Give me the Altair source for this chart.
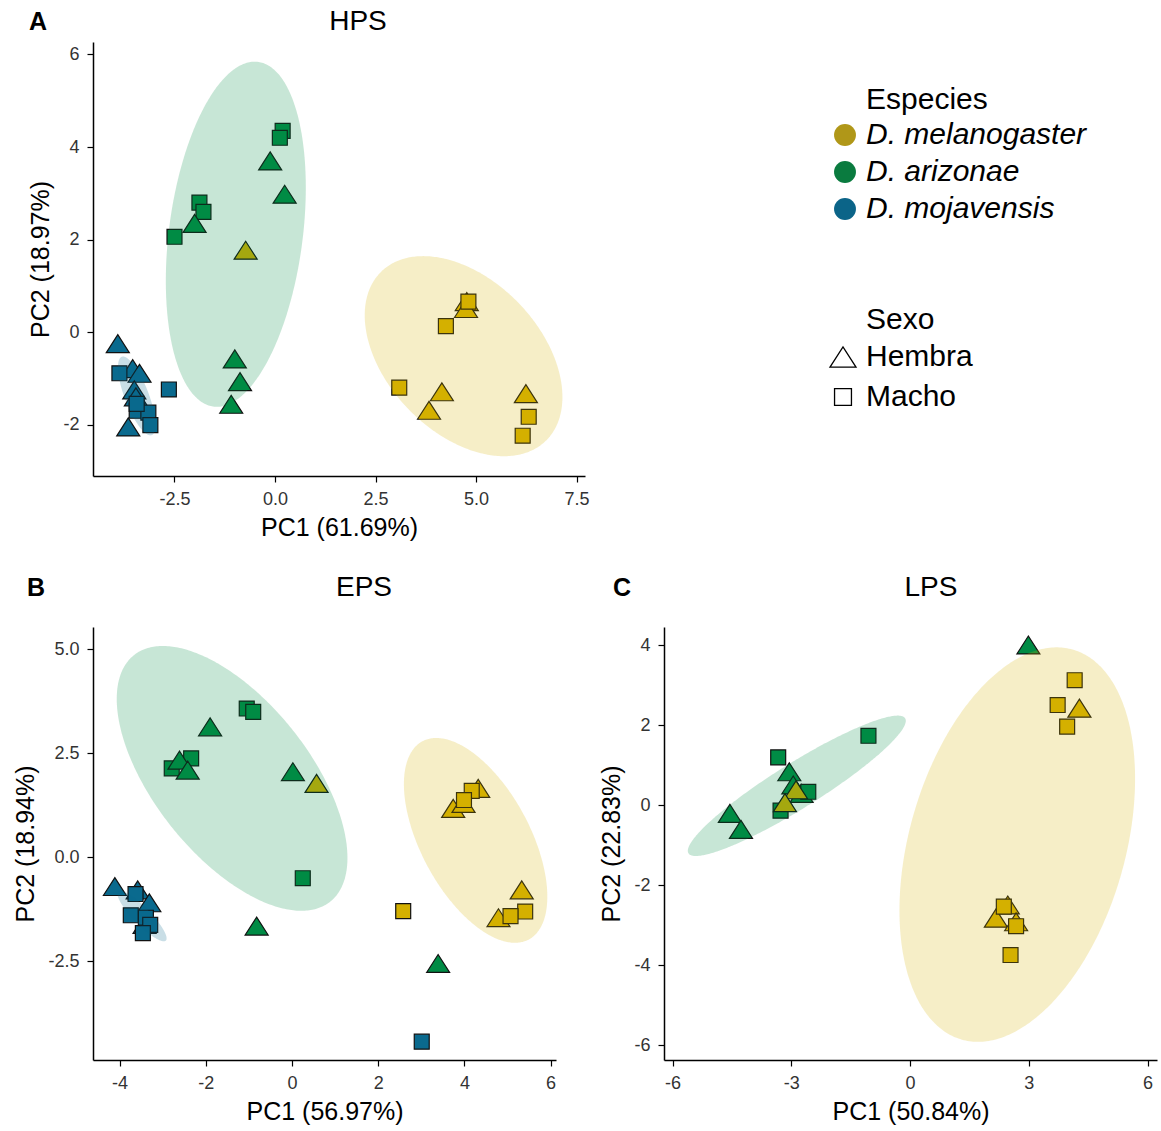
import numpy as np
import pandas as pd
import altair as alt

FONT = "Liberation Sans"

ESPECIES = ["D. melanogaster", "D. arizonae", "D. mojavensis"]
SEXOS = ["Hembra", "Macho"]
MEL, ARI, MOJ = ESPECIES
HEM, MAC = SEXOS

COLOR_PUNTOS = ["#D4B000", "#008B45", "#0A6A8E"]
COLOR_LEYENDA = ["#B09718", "#0A7B3F", "#0B6488"]
# triangle (Hembra) and square (Macho) as custom symbol paths
FORMAS = ["M-1,0.78L0,-0.78L1,0.78Z",
          "M-0.65,-0.65L0.65,-0.65L0.65,0.65L-0.65,0.65Z"]

# ---- HPS scores: (especie, sexo) -> (PC1, PC2)
HPS_PC1 = {
    (ARI, MAC): [0.19, 0.12, -1.88, -1.78, -2.50],
    (ARI, HEM): [-0.12, 0.24, -2.00, -1.00, -0.87, -1.09],
    (MEL, HEM): [-0.73, 4.77, 4.75, 4.15, 3.83, 6.24],
    (MEL, MAC): [4.81, 4.25, 3.09, 6.31, 6.16],
    (MOJ, HEM): [-3.91, -3.54, -3.37, -3.50, -3.46, -3.65],
    (MOJ, MAC): [-3.87, -2.64, -3.44, -3.15, -3.10, -3.44],
}
HPS_PC2 = {
    (ARI, MAC): [4.35, 4.20, 2.80, 2.60, 2.06],
    (ARI, HEM): [3.70, 2.98, 2.35, -0.58, -1.07, -1.56],
    (MEL, HEM): [1.77, 0.66, 0.51, -1.29, -1.69, -1.33],
    (MEL, MAC): [0.66, 0.13, -1.20, -1.83, -2.24],
    (MOJ, HEM): [-0.25, -0.79, -0.89, -1.25, -1.40, -2.05],
    (MOJ, MAC): [-0.89, -1.24, -1.70, -1.74, -2.01, -1.55],
}

# ---- EPS scores
EPS_PC1 = {
    (ARI, MAC): [-1.05, -0.90, -2.34, -2.79, 0.25],
    (ARI, HEM): [-1.90, -2.61, -2.42, 0.02, -0.82, 3.39],
    (MEL, HEM): [0.57, 4.32, 3.74, 3.98, 5.33, 4.79],
    (MEL, MAC): [2.58, 4.17, 3.99, 5.41, 5.07],
    (MOJ, HEM): [-4.11, -3.58, -3.31, -3.42],
    (MOJ, MAC): [-3.63, -3.74, -3.39, -3.29, -3.46, 3.01],
}
EPS_PC2 = {
    (ARI, MAC): [3.57, 3.49, 2.37, 2.13, -0.51],
    (ARI, HEM): [3.13, 2.33, 2.09, 2.05, -1.66, -2.56],
    (MEL, HEM): [1.77, 1.65, 1.17, 1.29, -0.79, -1.46],
    (MEL, MAC): [-1.30, 1.59, 1.37, -1.31, -1.42],
    (MOJ, HEM): [-0.71, -0.79, -1.10, -1.62],
    (MOJ, MAC): [-0.89, -1.40, -1.46, -1.63, -1.83, -4.44],
}

# ---- LPS scores
LPS_PC1 = {
    (ARI, HEM): [2.99, -3.05, -2.74, -4.55, -4.27, -2.95],
    (ARI, MAC): [-1.05, -3.33, -2.57, -3.27],
    (MEL, HEM): [-2.88, -3.16, 4.28, 2.47, 2.17, 2.68],
    (MEL, MAC): [4.16, 3.73, 3.97, 2.37, 2.68, 2.54],
}
LPS_PC2 = {
    (ARI, HEM): [4.00, 0.83, 0.29, -0.21, -0.61, 0.50],
    (ARI, MAC): [1.73, 1.19, 0.33, -0.14],
    (MEL, HEM): [0.38, 0.06, 2.42, -2.50, -2.83, -2.92],
    (MEL, MAC): [3.12, 2.50, 1.96, -2.54, -3.03, -3.75],
}

# ---- group ellipses: centre (cx, cy) and two conjugate semi-axis vectors a, b
HPS_ELIPSES = {
    ARI: [-0.975, 2.115, 0.555, 3.725, 1.650, -0.190],
    MEL: [4.690, -0.520, 2.045, -1.830, -1.365, -1.152],
    MOJ: [-3.440, -1.380, 0.373, -0.847, 0.279, 0.093],
}
EPS_ELIPSES = {
    ARI: [-1.390, 1.890, 2.276, -2.964, -1.408, -1.161],
    MEL: [4.260, 0.400, 1.234, -2.383, -1.116, -0.620],
    MOJ: [-3.480, -1.420, 0.553, -0.589, -0.140, -0.142],
}
LPS_ELIPSES = {
    ARI: [-2.860, 0.480, 2.737, 1.688, 0.303, -0.480],
    MEL: [2.710, -0.990, 1.403, 4.875, 2.625, -0.740],
}


def tabla_puntos(pc1, pc2):
    filas = []
    for (esp, sexo), xs in pc1.items():
        for x, y in zip(xs, pc2[(esp, sexo)]):
            filas.append({"especie": esp, "sexo": sexo, "pc1": x, "pc2": y})
    return pd.DataFrame(filas)


def tabla_elipses(elipses, n=181):
    filas = []
    for esp, (cx, cy, ax, ay, bx, by) in elipses.items():
        r = np.hypot(ax, bx)
        phi = np.arctan2(bx, ax)
        u = np.linspace(0, np.pi, n)
        xs = cx + r * np.cos(u)
        ya = cy + ay * np.cos(phi + u) + by * np.sin(phi + u)
        yb = cy + ay * np.cos(phi - u) + by * np.sin(phi - u)
        for x, y1, y2 in zip(xs, np.minimum(ya, yb), np.maximum(ya, yb)):
            filas.append({"especie": esp, "pc1": x, "pc2": y1, "pc2b": y2})
    return pd.DataFrame(filas)


def etiqueta(fmt):
    return (f"datum.value < 0 ? '-' + format(-datum.value, '{fmt}') "
            f": format(datum.value, '{fmt}')")


def texto(t, dx, dy, size, weight="normal", align="center", style="normal"):
    return alt.Chart(pd.DataFrame({"t": [t]})).mark_text(
        font=FONT, fontSize=size, fontWeight=weight, align=align,
        baseline="middle", fontStyle=style, color="black",
    ).encode(text="t:N", x=alt.value(dx), y=alt.value(dy))


def panel(pc1, pc2, elipses, xdom, ydom, xticks, yticks, xfmt, yfmt,
          xtitle, ytitle, letra, titulo, w, h, letra_dx, titulo_dx, dy,
          ytitle_pad, leyenda=False):
    puntos = tabla_puntos(pc1, pc2)
    zonas = tabla_elipses(elipses)

    xs = alt.Scale(domain=xdom, nice=False, zero=False)
    ys = alt.Scale(domain=ydom, nice=False, zero=False)
    fill_scale = alt.Scale(domain=ESPECIES, range=COLOR_PUNTOS)
    eje_x = alt.Axis(values=xticks, title=xtitle, labelExpr=etiqueta(xfmt),
                     labelPadding=8, titlePadding=7)
    eje_y = alt.Axis(values=yticks, title=ytitle, labelExpr=etiqueta(yfmt),
                     labelPadding=8, titlePadding=ytitle_pad)

    if leyenda:
        shape_legend = alt.Legend(
            orient="none", legendX=735, legendY=300, title=None, padding=0,
            symbolFillColor="white", symbolStrokeColor="black",
            symbolStrokeWidth=1.3, symbolSize=676, symbolOpacity=1,
            labelFont=FONT, labelFontSize=30, labelColor="black",
            labelOffset=8, rowPadding=10, labelLimit=400,
        )
    else:
        shape_legend = None

    capa_puntos = alt.Chart(puntos).mark_point(
        filled=True, size=529, stroke="#111111", strokeWidth=1.2, opacity=1,
    ).encode(
        x=alt.X("pc1:Q", scale=xs, axis=eje_x),
        y=alt.Y("pc2:Q", scale=ys, axis=eje_y),
        fill=alt.Fill("especie:N", scale=fill_scale, legend=None),
        shape=alt.Shape("sexo:N", scale=alt.Scale(domain=SEXOS, range=FORMAS),
                        legend=shape_legend),
    )

    capa_zonas = alt.Chart(zonas).mark_area(opacity=0.22).encode(
        x=alt.X("pc1:Q", scale=xs, axis=eje_x),
        y=alt.Y("pc2:Q", scale=ys, axis=eje_y),
        y2="pc2b:Q",
        fill=alt.Fill("especie:N", scale=fill_scale, legend=None),
    )

    capas = [capa_puntos, capa_zonas,
             texto(letra, letra_dx, dy, 25, weight="bold"),
             texto(titulo, titulo_dx, dy, 28)]

    if leyenda:
        capa_leyenda = alt.Chart(pd.DataFrame({"especie": ESPECIES})).mark_point(
            filled=True, size=0, shape="circle",
        ).encode(
            x=alt.value(0), y=alt.value(0),
            fill=alt.Fill("especie:N",
                          scale=alt.Scale(domain=ESPECIES, range=COLOR_LEYENDA),
                          legend=alt.Legend(
                              orient="none", legendX=737, legendY=78,
                              title=None, padding=0, symbolType="circle",
                              symbolSize=480, symbolOpacity=1,
                              symbolStrokeWidth=0, labelLimit=400,
                              labelFont=FONT, labelFontSize=30,
                              labelFontStyle="italic", labelColor="black",
                              labelOffset=6, rowPadding=7)),
        )
        capas += [capa_leyenda,
                  texto("Especies", 773, 58, 30, align="left"),
                  texto("Sexo", 773, 278, 30, align="left")]

    return alt.layer(*capas).resolve_scale(fill="independent").properties(
        width=w, height=h)


panel_a = panel(HPS_PC1, HPS_PC2, HPS_ELIPSES,
                [-4.527, 7.71], [-3.11, 6.27],
                [-2.5, 0, 2.5, 5, 7.5], [-2, 0, 2, 4, 6], ".1f", "d",
                "PC1 (61.69%)", "PC2 (18.97%)", "A", "HPS",
                492, 434, -55, 265, -20, 9, leyenda=True)

panel_b = panel(EPS_PC1, EPS_PC2, EPS_ELIPSES,
                [-4.617, 6.125], [-4.88, 5.53],
                [-4, -2, 0, 2, 4, 6], [-2.5, 0, 2.5, 5.0], "d", ".1f",
                "PC1 (56.97%)", "PC2 (18.94%)", "B", "EPS",
                463, 433, -57, 271, -39, 9)

panel_c = panel(LPS_PC1, LPS_PC2, LPS_ELIPSES,
                [-6.215, 6.24], [-6.375, 4.45],
                [-6, -3, 0, 3, 6], [-6, -4, -2, 0, 2, 4], "d", "d",
                "PC1 (50.84%)", "PC2 (22.83%)", "C", "LPS",
                493, 433, -42, 267, -39, 9)

fila_inferior = alt.hconcat(panel_b, panel_c, spacing=108, bounds="flush")

chart = alt.vconcat(panel_a, fila_inferior, spacing=151, bounds="flush").properties(
    padding={"left": 13, "top": 8, "right": 4, "bottom": 5},
).configure_view(stroke=None).configure_axis(
    grid=False, domainColor="black", domainWidth=1.5,
    tickColor="black", tickWidth=1.2, tickSize=6,
    labelFont=FONT, labelFontSize=18, labelColor="#333333",
    titleFont=FONT, titleFontSize=25, titleFontWeight="normal",
    titleColor="black",
)

chart.save("out.html", embed_options={"renderer": "svg", "actions": False})
